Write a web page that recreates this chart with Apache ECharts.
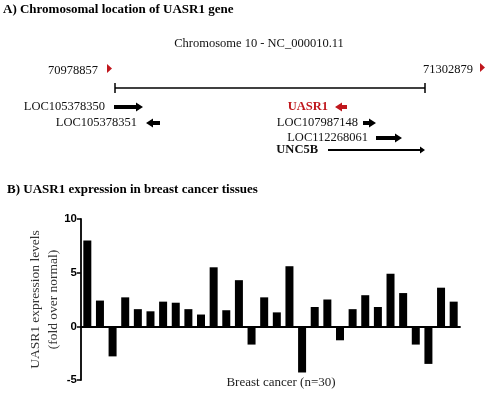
<!DOCTYPE html>
<html>
<head>
<meta charset="utf-8">
<script src="https://cdn.jsdelivr.net/npm/echarts@6/dist/echarts.min.js"></script>
<style>
html,body{margin:0;padding:0;background:#fff;}
#chart{width:490px;height:394px;}
</style>
</head>
<body>
<div id="chart"></div>
<script>
// 30个乳腺癌样本的UASR1表达量 (fold over normal)
var samples = [];
for (var i = 1; i <= 30; i++) samples.push('S' + i);
var expression = [8.0, 2.4, -2.8, 2.7, 1.6, 1.4, 2.3, 2.2, 1.6, 1.1,
	5.5, 1.5, 4.3, -1.7, 2.7, 1.3, 5.6, -4.3, 1.8, 2.5,
	-1.3, 1.6, 2.9, 1.8, 4.9, 3.1, -1.7, -3.5, 3.6, 2.3];
var yTicks = [-5, 0, 5, 10];

// 染色体区域
var chromStart = '70978857';
var chromEnd = '71302879';
var chromTitle = 'Chromosome 10 - NC_000010.11';
// 基因名, 方向
var geneNames = ['LOC105378350', 'LOC105378351', 'UASR1', 'LOC107987148', 'LOC112268061', 'UNC5B'];
var geneStrand = ['+', '-', '-', '+', '+', '+'];

var serif = '"Liberation Serif","Times New Roman",serif';
var sans = '"Liberation Sans",Arial,sans-serif';
var red = '#c0171d';

//基因图的布局: 文字右边界, 行y, 箭头起止x, 粗细
var geneLayout = [
	{textRight: 105, y: 107, x1: 114, x2: 143, w: 4, bold: false, color: '#111'},
	{textRight: 137, y: 123, x1: 146, x2: 160, w: 4, bold: false, color: '#111'},
	{textRight: 328, y: 107, x1: 335, x2: 347, w: 4, bold: true, color: red},
	{textRight: 358, y: 123, x1: 363, x2: 376, w: 4, bold: false, color: '#111'},
	{textRight: 368, y: 138, x1: 376, x2: 402, w: 4, bold: false, color: '#111'},
	{textRight: 318, y: 150, x1: 328, x2: 425, w: 2, bold: true, color: '#111'}
];

//箭头多边形, 方向由strand决定
function arrowShape(x1, x2, y, w, dir)
{
	var head = w + 5;
	var hl = w + 3;
	var a = Math.min(x1, x2), b = Math.max(x1, x2);
	if (dir == '+')
	{
		return [[a, y - w / 2], [b - hl, y - w / 2], [b - hl, y - head / 2], [b, y], [b - hl, y + head / 2], [b - hl, y + w / 2], [a, y + w / 2]];
	}
	return [[b, y - w / 2], [a + hl, y - w / 2], [a + hl, y - head / 2], [a, y], [a + hl, y + head / 2], [a + hl, y + w / 2], [b, y + w / 2]];
}

var graphics = [];
graphics.push({type: 'text', left: 3, top: 3, style: {text: 'A) Chromosomal location of UASR1 gene', font: 'bold 13px ' + serif, fill: '#000'}});
graphics.push({type: 'text', x: 259, y: 44, style: {text: chromTitle, font: '12.5px ' + serif, fill: '#111', align: 'center', verticalAlign: 'middle'}});
graphics.push({type: 'text', x: 98, y: 71, style: {text: chromStart, font: '12.5px ' + serif, fill: '#111', align: 'right', verticalAlign: 'middle'}});
graphics.push({type: 'text', x: 473, y: 70, style: {text: chromEnd, font: '12.5px ' + serif, fill: '#111', align: 'right', verticalAlign: 'middle'}});
graphics.push({type: 'polygon', shape: {points: [[107, 64], [112, 68.5], [107, 73]]}, style: {fill: red}});
graphics.push({type: 'polygon', shape: {points: [[480, 63], [485, 67.5], [480, 72]]}, style: {fill: red}});
//染色体区间线
graphics.push({type: 'line', shape: {x1: 115, y1: 88, x2: 425, y2: 88}, style: {stroke: '#000', lineWidth: 1.5}});
graphics.push({type: 'line', shape: {x1: 115, y1: 83, x2: 115, y2: 93}, style: {stroke: '#000', lineWidth: 1.5}});
graphics.push({type: 'line', shape: {x1: 425, y1: 83, x2: 425, y2: 93}, style: {stroke: '#000', lineWidth: 1.5}});
for (var g = 0; g < geneNames.length; g++)
{
	var L = geneLayout[g];
	graphics.push({type: 'text', x: L.textRight, y: L.y, style: {text: geneNames[g], font: (L.bold ? 'bold ' : '') + '12.5px ' + serif, fill: L.color, align: 'right', verticalAlign: 'middle'}});
	graphics.push({type: 'polygon', shape: {points: arrowShape(L.x1, L.x2, L.y, L.w, geneStrand[g])}, style: {fill: L.color == red ? red : '#000'}});
}
graphics.push({type: 'text', left: 7, top: 183, style: {text: 'B) UASR1 expression in breast cancer tissues', font: 'bold 13px ' + serif, fill: '#000'}});
graphics.push({type: 'text', x: 281, y: 383, style: {text: 'Breast cancer (n=30)', font: '13px ' + serif, fill: '#222', align: 'center', verticalAlign: 'middle'}});

var myChart = echarts.init(document.getElementById('chart'));
var option = {
	backgroundColor: '#fff',
	animation: false,
	grid: {left: 81, right: 30, top: 219, bottom: 14, containLabel: false},
	xAxis: {
		type: 'category',
		data: samples,
		axisLabel: {show: false},
		axisLine: {lineStyle: {color: '#000', width: 1.8}},
		axisTick: {alignWithLabel: true, length: 4, inside: false, lineStyle: {color: '#000', width: 1.2}},
		splitLine: {show: false}
	},
	yAxis: {
		type: 'value',
		min: yTicks[0],
		max: yTicks[yTicks.length - 1],
		interval: 5,
		name: 'UASR1 expression levels\n(fold over normal)',
		nameLocation: 'middle',
		nameGap: 19,
		nameMoveOverlap: false,
		nameTextStyle: {fontFamily: serif, fontSize: 13.5, color: '#333', lineHeight: 18},
		axisLine: {show: true, lineStyle: {color: '#000', width: 1.8}},
		axisTick: {show: true, length: 4, lineStyle: {color: '#000', width: 1.5}},
		axisLabel: {color: '#000', fontFamily: sans, fontWeight: 'bold', fontSize: 11.5, margin: 4},
		splitLine: {show: false}
	},
	series: [{
		type: 'bar',
		data: expression,
		barWidth: 8,
		itemStyle: {color: '#000'}
	}],
	graphic: graphics
};
myChart.setOption(option);
</script>
</body>
</html>
